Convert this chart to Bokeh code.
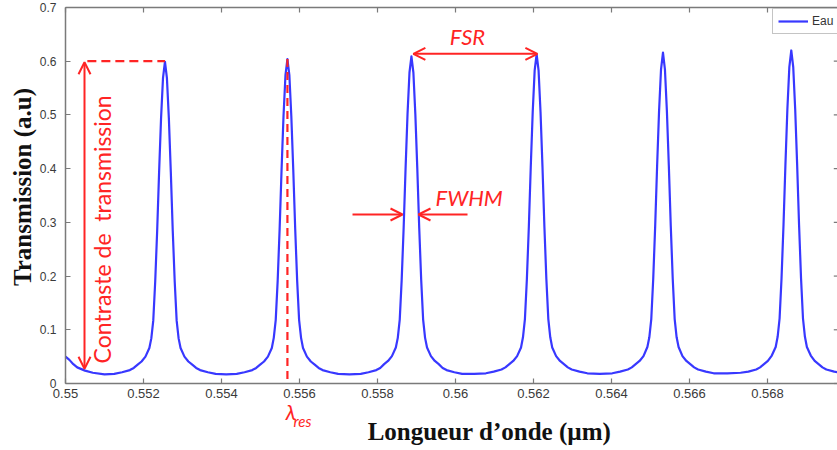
from math import pi
from bokeh.plotting import figure
from bokeh.models import Range1d, FixedTicker, Arrow, OpenHead, Label, Legend, LegendItem
from bokeh.embed import file_html
from bokeh.resources import INLINE

# ---------------- data ----------------
x_ticks = [0.55, 0.552, 0.554, 0.556, 0.558, 0.56, 0.562, 0.564, 0.566, 0.568]
x_tick_labels = ["0.55", "0.552", "0.554", "0.556", "0.558", "0.56", "0.562",
                 "0.564", "0.566", "0.568"]
y_ticks = [0, 0.1, 0.2, 0.3, 0.4, 0.5, 0.6, 0.7]
y_tick_labels = ["0", "0.1", "0.2", "0.3", "0.4", "0.5", "0.6", "0.7"]
x_min, x_max = 0.55, 0.5698      # data box (µm)
y_min, y_max = 0.0, 0.7

peak_wl = [0.55255, 0.55569, 0.55887, 0.56208, 0.56532, 0.56861]
peak_tr = [0.599, 0.604, 0.609, 0.613, 0.616, 0.620]

wavelength_um = [
    0.5500, 0.5501, 0.5502, 0.5503, 0.5505, 0.5507, 0.5510,
    # resonance 1
    0.55125, 0.55145, 0.55165, 0.55175, 0.55185, 0.55195, 0.55205, 0.55215, 0.55220,
    0.55225, 0.55230, 0.55235, 0.55240, 0.55245, 0.55250, 0.55255, 0.55260, 0.55265,
    0.55270, 0.55275, 0.55280, 0.55285, 0.55290, 0.55295, 0.55305, 0.55315, 0.55325,
    0.55335, 0.55345, 0.55365, 0.55385,
    0.55412,
    # resonance 2
    0.55439, 0.55459, 0.55479, 0.55489, 0.55499, 0.55509, 0.55519, 0.55529, 0.55534,
    0.55539, 0.55544, 0.55549, 0.55554, 0.55559, 0.55564, 0.55569, 0.55574, 0.55579,
    0.55584, 0.55589, 0.55594, 0.55599, 0.55604, 0.55609, 0.55619, 0.55629, 0.55639,
    0.55649, 0.55659, 0.55679, 0.55699,
    0.55728,
    # resonance 3
    0.55757, 0.55777, 0.55797, 0.55807, 0.55817, 0.55827, 0.55837, 0.55847, 0.55852,
    0.55857, 0.55862, 0.55867, 0.55872, 0.55877, 0.55882, 0.55887, 0.55892, 0.55897,
    0.55902, 0.55907, 0.55912, 0.55917, 0.55922, 0.55927, 0.55937, 0.55947, 0.55957,
    0.55967, 0.55977, 0.55997, 0.56017,
    0.56048,
    # resonance 4
    0.56078, 0.56098, 0.56118, 0.56128, 0.56138, 0.56148, 0.56158, 0.56168, 0.56173,
    0.56178, 0.56183, 0.56188, 0.56193, 0.56198, 0.56203, 0.56208, 0.56213, 0.56218,
    0.56223, 0.56228, 0.56233, 0.56238, 0.56243, 0.56248, 0.56258, 0.56268, 0.56278,
    0.56288, 0.56298, 0.56318, 0.56338,
    0.56370,
    # resonance 5
    0.56402, 0.56422, 0.56442, 0.56452, 0.56462, 0.56472, 0.56482, 0.56492, 0.56497,
    0.56502, 0.56507, 0.56512, 0.56517, 0.56522, 0.56527, 0.56532, 0.56537, 0.56542,
    0.56547, 0.56552, 0.56557, 0.56562, 0.56567, 0.56572, 0.56582, 0.56592, 0.56602,
    0.56612, 0.56622, 0.56642, 0.56662,
    0.56697,
    # resonance 6
    0.56731, 0.56751, 0.56771, 0.56781, 0.56791, 0.56801, 0.56811, 0.56821, 0.56826,
    0.56831, 0.56836, 0.56841, 0.56846, 0.56851, 0.56856, 0.56861, 0.56866, 0.56871,
    0.56876, 0.56881, 0.56886, 0.56891, 0.56896, 0.56901, 0.56911, 0.56921, 0.56931,
    0.56941, 0.56951, 0.56971, 0.56980,
]

transmission = [
    0.050, 0.044, 0.036, 0.030, 0.024, 0.020, 0.017,
    # resonance 1
    0.018, 0.021, 0.025, 0.029, 0.035, 0.041, 0.050, 0.066, 0.084,
    0.117, 0.190, 0.284, 0.394, 0.494, 0.569, 0.599, 0.569, 0.494,
    0.394, 0.284, 0.190, 0.117, 0.084, 0.066, 0.050, 0.041, 0.035,
    0.029, 0.025, 0.021, 0.018,
    0.017,
    # resonance 2
    0.018, 0.021, 0.025, 0.029, 0.035, 0.041, 0.050, 0.066, 0.085,
    0.118, 0.191, 0.287, 0.398, 0.498, 0.574, 0.604, 0.574, 0.498,
    0.398, 0.287, 0.191, 0.118, 0.085, 0.066, 0.050, 0.041, 0.035,
    0.029, 0.025, 0.021, 0.018,
    0.017,
    # resonance 3
    0.018, 0.021, 0.025, 0.029, 0.036, 0.042, 0.051, 0.067, 0.085,
    0.119, 0.193, 0.289, 0.401, 0.502, 0.579, 0.609, 0.579, 0.502,
    0.401, 0.289, 0.193, 0.119, 0.085, 0.067, 0.051, 0.042, 0.036,
    0.029, 0.025, 0.021, 0.018,
    0.018,
    # resonance 4
    0.019, 0.022, 0.026, 0.030, 0.036, 0.042, 0.051, 0.067, 0.086,
    0.120, 0.194, 0.291, 0.404, 0.506, 0.583, 0.613, 0.583, 0.506,
    0.404, 0.291, 0.194, 0.120, 0.086, 0.067, 0.051, 0.042, 0.036,
    0.030, 0.026, 0.022, 0.019,
    0.018,
    # resonance 5
    0.019, 0.022, 0.026, 0.030, 0.036, 0.042, 0.051, 0.068, 0.086,
    0.120, 0.195, 0.293, 0.406, 0.508, 0.585, 0.616, 0.585, 0.508,
    0.406, 0.293, 0.195, 0.120, 0.086, 0.068, 0.051, 0.042, 0.036,
    0.030, 0.026, 0.022, 0.019,
    0.019,
    # resonance 6
    0.020, 0.022, 0.026, 0.030, 0.036, 0.042, 0.052, 0.068, 0.087,
    0.121, 0.196, 0.294, 0.408, 0.511, 0.589, 0.620, 0.589, 0.511,
    0.408, 0.294, 0.196, 0.121, 0.087, 0.068, 0.052, 0.042, 0.036,
    0.030, 0.026, 0.022, 0.021,
]

# ---------------- styling ----------------
RED = "#ff2424"
BLUE = "#3838ff"
AX = "#7a7a7a"
TICK_TXT = "#3a3a3a"
TITLE = "#111111"

# the frame covers the whole canvas; the axes are pinned at the data box edges
p = figure(width=837, height=450, output_backend="svg", toolbar_location=None,
           x_range=Range1d(0.548333, 0.569795), y_range=Range1d(-0.12473, 0.71303),
           min_border_left=0, min_border_right=0, min_border_top=0,
           min_border_bottom=0)
p.outline_line_color = None
p.grid.visible = False
p.background_fill_color = "white"
p.border_fill_color = "white"

curve = p.line(wavelength_um, transmission, line_color=BLUE, line_width=2.2,
               line_join="round")

# axes
xa = p.xaxis[0]
xa.fixed_location = y_min
xa.bounds = (x_min, x_max)
xa.ticker = FixedTicker(ticks=x_ticks)
xa.major_label_overrides = dict(zip(x_ticks, x_tick_labels))
ya = p.yaxis[0]
ya.fixed_location = x_min
ya.bounds = (y_min, y_max)
ya.ticker = FixedTicker(ticks=y_ticks)
ya.major_label_overrides = dict(zip(y_ticks, y_tick_labels))
for ax in (xa, ya):
    ax.axis_line_color = AX
    ax.axis_line_width = 1.5
    ax.major_tick_line_color = AX
    ax.major_tick_line_width = 1.2
    ax.major_tick_in = 5
    ax.major_tick_out = 0
    ax.minor_tick_line_color = None
    ax.major_label_text_font = "Liberation Sans"
    ax.major_label_text_color = TICK_TXT
xa.major_label_text_font_size = "13px"
ya.major_label_text_font_size = "12px"
xa.major_label_standoff = 5
ya.major_label_standoff = 9

# top border with inward ticks, and inward ticks of the right border at the edge
p.line([x_min, x_max], [y_max, y_max], line_color=AX, line_width=1.5)
p.segment(x0=x_ticks, y0=[y_max] * len(x_ticks), x1=x_ticks,
          y1=[y_max - 0.0093] * len(x_ticks), line_color=AX, line_width=1.2)
p.segment(x0=[x_max - 0.0001] * len(y_ticks), y0=y_ticks, x1=[x_max] * len(y_ticks),
          y1=y_ticks, line_color=AX, line_width=1.2)

# axis titles
p.add_layout(Label(x=0.56087, y=-0.0894, text="Longueur d\u2019onde (\u00b5m)",
                   text_align="center", text_baseline="middle",
                   text_font="Liberation Serif", text_font_style="bold",
                   text_font_size="25px", text_color=TITLE))
p.add_layout(Label(x=0.548885, y=0.3658, text="Transmission (a.u)", angle=pi / 2,
                   text_align="center", text_baseline="middle",
                   text_font="Liberation Serif", text_font_style="bold",
                   text_font_size="25px", text_color=TITLE))

# legend (box runs past the right edge, as in the reference)
legend = Legend(items=[LegendItem(label="Eau", renderers=[curve])],
                location=(772, 416))
legend.border_line_color = "#8a8a8a"
legend.border_line_width = 1.2
legend.label_text_font = "Liberation Sans"
legend.label_text_font_size = "12px"
legend.label_text_color = "#333333"
legend.glyph_width = 30
legend.glyph_height = 14
legend.label_height = 14
legend.label_standoff = 4
legend.padding = 5
legend.margin = 0
legend.spacing = 0
p.add_layout(legend)

# ---------------- annotations ----------------
# contrast: dashed level line + double arrow
p.line([0.55056, peak_wl[0]], [0.6, 0.6], line_color=RED, line_width=2.2,
       line_dash="9 5")
p.add_layout(Arrow(start=OpenHead(size=12, line_color=RED, line_width=2),
                   end=OpenHead(size=12, line_color=RED, line_width=2),
                   x_start=0.550487, y_start=0.0274, x_end=0.550487, y_end=0.598,
                   line_color=RED, line_width=2))
p.add_layout(Label(x=0.550936, y=0.287, text="Contraste de\u00a0 transmission",
                   angle=pi / 2, text_align="center", text_baseline="middle",
                   text_font="Lato", text_font_size="23px", text_color=RED))

# resonance wavelength dashed marker
p.line([peak_wl[1], peak_wl[1]], [peak_tr[1], y_min], line_color=RED, line_width=2.2,
       line_dash="8 5")
p.add_layout(Label(x=0.55564, y=-0.0522, text="\u03bb", text_align="left",
                   text_baseline="alphabetic", text_font="Lato",
                   text_font_style="italic", text_font_size="22px", text_color=RED))
p.add_layout(Label(x=0.555846, y=-0.0705, text="res", text_align="left",
                   text_baseline="alphabetic", text_font="Lato",
                   text_font_style="italic", text_font_size="15px", text_color=RED))

# FSR
p.add_layout(Arrow(start=OpenHead(size=12, line_color=RED, line_width=2),
                   end=OpenHead(size=12, line_color=RED, line_width=2),
                   x_start=peak_wl[2] + 0.00005, y_start=0.6138,
                   x_end=peak_wl[3] + 0.00002, y_end=0.6138,
                   line_color=RED, line_width=2))
p.add_layout(Label(x=0.560308, y=0.646, text="FSR", text_align="center",
                   text_baseline="middle", text_font="Lato", text_font_style="italic",
                   text_font_size="22px", text_color=RED))

# FWHM
p.add_layout(Arrow(end=OpenHead(size=12, line_color=RED, line_width=2), start=None,
                   x_start=0.557359, y_start=0.3146, x_end=0.558641, y_end=0.3146,
                   line_color=RED, line_width=2))
p.add_layout(Arrow(end=OpenHead(size=12, line_color=RED, line_width=2), start=None,
                   x_start=0.560308, y_start=0.3146, x_end=0.559051, y_end=0.3146,
                   line_color=RED, line_width=2))
p.add_layout(Label(x=0.559487, y=0.3463, text="FWHM", text_align="left",
                   text_baseline="middle", text_font="Lato", text_font_style="italic",
                   text_font_size="22px", text_color=RED))

open("out.html", "w").write(file_html(p, INLINE))
